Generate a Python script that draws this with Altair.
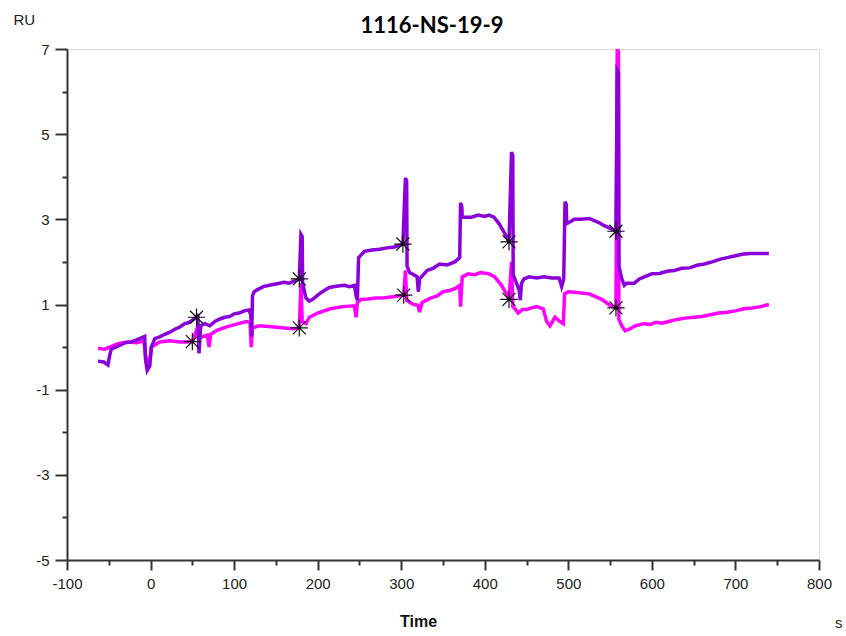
import altair as alt
import pandas as pd

# Purple trace: (time s, RU)
purple_points = [
    (-63, -0.33), (-56, -0.35), (-51, -0.42), (-49, -0.2), (-47, -0.05), (-39, 0.02), (-31, 0.1),
    (-23, 0.12), (-13, 0.2), (-7, 0.25), (-6, -0.3), (-4, -0.55), (-1, -0.45), (1, 0.0), (5, 0.2),
    (11, 0.24), (17, 0.3), (23, 0.35), (29, 0.42), (35, 0.47), (41, 0.55), (45, 0.57), (49, 0.62),
    (55, 0.7), (56.5, 0.78), (58, -0.15), (60, 0.5), (65, 0.55), (71, 0.5), (77, 0.6), (83, 0.66),
    (89, 0.7), (95, 0.72), (100, 0.78), (106, 0.8), (112, 0.85), (118, 0.87), (120, 0.75),
    (121, 0.25), (122, 1.2), (124, 1.3), (128, 1.35), (135, 1.42), (142, 1.45), (150, 1.48),
    (160, 1.52), (166, 1.5), (172, 1.55), (178, 1.6),
    (180, 2.65), (181.5, 2.6), (182, 1.5), (186, 1.15), (190, 1.08), (194, 1.12), (202, 1.25),
    (208, 1.33), (214, 1.4), (222, 1.43), (232, 1.45), (238, 1.42), (244, 1.45), (246, 1.2),
    (247.5, 1.1), (249, 2.1), (256, 2.25), (265, 2.28), (274, 2.3), (283, 2.33), (292, 2.35),
    (302, 2.42),
    (305, 3.97), (306.5, 3.9), (307, 1.9), (310, 1.75), (315, 1.7), (319, 1.65), (320.5, 1.3),
    (322, 1.6), (331, 1.8), (338, 1.85), (346, 1.95), (355, 1.93), (364, 2.0), (370, 2.1),
    (371, 3.39), (372.5, 3.3), (373, 3.05), (378, 3.05), (384, 3.05), (392, 3.1), (400, 3.07),
    (405, 3.1), (411, 3.05), (417, 2.9), (423, 2.7), (429, 2.47),
    (432, 4.58), (433.5, 4.5), (434, 1.7), (437, 1.55), (441, 1.35), (442.5, 1.1), (444, 1.5),
    (447, 1.6), (453, 1.65), (462, 1.62), (471, 1.65), (480, 1.62), (489, 1.62), (492, 1.42),
    (494.5, 1.6), (496, 3.41), (497.5, 3.35), (498, 2.9), (503, 2.95), (507, 3.0), (515, 3.0),
    (525, 3.02), (531, 2.97), (537, 2.92), (543, 2.85), (549, 2.8), (557, 2.72),
    (558.5, 6.5), (560, 6.45), (560.5, 1.9), (564, 1.6), (567, 1.45), (570, 1.5), (579, 1.5),
    (585, 1.6), (591, 1.65), (600, 1.72), (609, 1.73), (618, 1.78), (627, 1.8), (636, 1.85),
    (645, 1.86), (654, 1.92), (663, 1.95), (672, 2.0), (681, 2.06), (690, 2.1), (699, 2.14),
    (708, 2.18), (717, 2.2), (729, 2.2), (740, 2.2),
]

# Magenta trace: (time s, RU)
magenta_points = [
    (-63, -0.03), (-55, -0.05), (-49, 0.0), (-39, 0.08), (-28, 0.12), (-16, 0.1), (-8, 0.15),
    (-6, -0.2), (-4, -0.35), (-1, -0.3), (1, 0.0), (11, 0.12), (23, 0.15), (35, 0.12), (44, 0.12),
    (50, 0.13), (55, 0.4), (58, 0.2), (63, 0.25), (68, 0.28), (70, 0.0), (72, 0.3), (80, 0.4),
    (92, 0.48), (105, 0.55), (115, 0.6), (119, 0.58), (120.5, 0.0), (122, 0.45), (130, 0.5),
    (145, 0.48), (160, 0.45), (172, 0.43), (178, 0.45),
    (180, 1.5), (181.5, 0.6), (186, 0.55), (190, 0.7), (200, 0.8), (215, 0.9), (230, 0.95),
    (244, 0.97), (246, 0.7), (247.5, 1.05), (252, 1.12), (260, 1.13), (270, 1.15), (280, 1.16),
    (290, 1.18), (303, 1.22),
    (305, 1.8), (306.5, 1.1), (310, 1.05), (315, 1.0), (320, 0.98), (322, 0.82), (325, 1.05),
    (335, 1.15), (343, 1.2), (350, 1.3), (358, 1.33), (365, 1.38), (370, 1.45), (371, 0.95),
    (373, 1.65), (380, 1.72), (388, 1.7), (395, 1.75), (405, 1.72), (412, 1.65), (420, 1.45),
    (426, 1.25), (429, 1.12),
    (432, 2.0), (433.5, 0.95), (436, 0.9), (440, 0.8), (445, 0.88), (450, 0.88), (456, 0.92),
    (462, 0.95), (470, 0.9), (474, 0.6), (478, 0.5), (484, 0.7), (490, 0.6), (494, 0.55),
    (495.5, 1.25), (500, 1.3), (510, 1.28), (525, 1.25), (540, 1.12), (550, 0.98), (557, 0.92),
    (558.5, 7.0), (560, 6.95), (560.5, 0.65), (564, 0.5), (568, 0.38), (573, 0.42), (580, 0.5),
    (590, 0.55), (598, 0.53), (605, 0.58), (612, 0.56), (620, 0.6), (630, 0.65), (640, 0.68),
    (650, 0.7), (660, 0.72), (670, 0.76), (680, 0.8), (690, 0.82), (700, 0.85), (710, 0.9),
    (720, 0.92), (730, 0.95), (740, 1.0),
]

# Report points (asterisks)
star_t_purple = [55, 178, 302, 429, 557]
star_v_purple = [0.7, 1.6, 2.42, 2.47, 2.72]
star_t_magenta = [50, 178, 303, 429, 557]
star_v_magenta = [0.13, 0.45, 1.22, 1.12, 0.92]

purple_df = pd.DataFrame(purple_points, columns=["t", "ru"])
magenta_df = pd.DataFrame(magenta_points, columns=["t", "ru"])
stars_df = pd.DataFrame({"t": star_t_purple + star_t_magenta,
                         "ru": star_v_purple + star_v_magenta})

PURPLE = "#8A00D8"
MAGENTA = "#FF00FF"

x_scale = alt.Scale(domain=[-100, 800], nice=False, zero=False)
y_scale = alt.Scale(domain=[-5, 7], nice=False, zero=False)

x_axis = alt.Axis(
    values=list(range(-100, 801, 50)),
    labelExpr="datum.value % 100 === 0 ? '' + datum.value : ''",
    tickSize={"condition": {"test": "datum.value % 100 === 0", "value": 10}, "value": 5},
    title="Time", titleFont="Liberation Sans", titleFontSize=16, titleFontWeight="bold",
    titleColor="#111", titleX=351, titleY=66, titleBaseline="alphabetic",
    titleAnchor="start", titleAlign="center",
    labelFont="Liberation Sans", labelFontSize=15, labelColor="#222", labelPadding=6,
    domainColor="#333", domainWidth=2, tickColor="#333", tickWidth=2, grid=False,
    labelFlush=False, labelOverlap=False,
)
y_axis = alt.Axis(
    values=list(range(-5, 8, 1)),
    labelExpr="(datum.value + 5) % 2 === 0 ? '' + datum.value : ''",
    tickSize={"condition": {"test": "(datum.value + 5) % 2 === 0", "value": 12}, "value": 5},
    title="RU", titleAngle=0, titleX=-54, titleY=-25, titleAlign="left",
    titleBaseline="alphabetic", titleFont="Liberation Sans", titleFontSize=15,
    titleFontWeight="normal", titleColor="#222",
    labelFont="Liberation Sans", labelFontSize=15, labelColor="#222", labelPadding=6,
    domainColor="#333", domainWidth=2, tickColor="#333", tickWidth=2, grid=False,
    labelFlush=False, labelOverlap=False,
)

magenta_line = alt.Chart(magenta_df).mark_line(color=MAGENTA, strokeWidth=3.5, clip=True).encode(
    x=alt.X("t:Q", scale=x_scale, axis=x_axis),
    y=alt.Y("ru:Q", scale=y_scale, axis=y_axis),
    order="t:Q",
)
purple_line = alt.Chart(purple_df).mark_line(color=PURPLE, strokeWidth=3.5, clip=True).encode(
    x=alt.X("t:Q", scale=x_scale),
    y=alt.Y("ru:Q", scale=y_scale),
    order="t:Q",
)

asterisk = "M-1,0L1,0M0,-1L0,1M-0.75,-0.75L0.75,0.75M-0.75,0.75L0.75,-0.75"
stars = alt.Chart(stars_df).mark_point(
    shape=asterisk, filled=False, stroke="#111", strokeWidth=1.2, size=300, opacity=1
).encode(
    x=alt.X("t:Q", scale=x_scale),
    y=alt.Y("ru:Q", scale=y_scale),
)

unit_df = pd.DataFrame({"u": ["s"]})
unit_label = alt.Chart(unit_df).mark_text(
    font="Liberation Sans", fontSize=15, color="#222", align="left", baseline="alphabetic"
).encode(text="u:N", x=alt.value(768), y=alt.value(579))

chart = alt.layer(magenta_line, purple_line, stars, unit_label).properties(
    width=752, height=511,
    title=alt.TitleParams("1116-NS-19-9", font="Lato", fontSize=22, fontWeight="bold",
                          color="#000", anchor="middle", dx=-11, dy=38, offset=12),
    autosize=alt.AutoSizeParams(type="none"),
    padding={"left": 67, "top": 49, "right": 27, "bottom": 76},
).configure_view(stroke=None).configure(background="white")

chart.save("out.html", embed_options={"renderer": "svg", "actions": False})
